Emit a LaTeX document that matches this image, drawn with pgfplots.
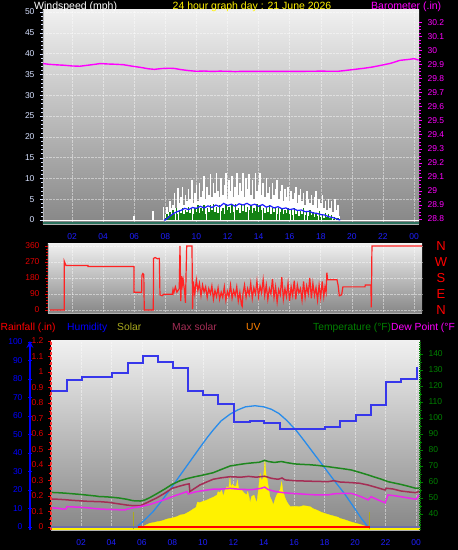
\documentclass[border=0pt]{standalone}
\usepackage{pgfplots}
\pgfplotsset{compat=1.18}
\usepackage{fontspec}
\setmainfont{Liberation Sans}
\definecolor{wblue}{RGB}{30,30,255}
\definecolor{tickw}{RGB}{215,225,255}
\definecolor{mag}{RGB}{255,0,255}
\definecolor{dirred}{RGB}{255,35,35}
\definecolor{lblred}{RGB}{225,0,0}
\definecolor{humblue}{RGB}{55,55,235}
\definecolor{maxsol}{RGB}{40,140,235}
\definecolor{tgreen}{RGB}{30,135,30}
\definecolor{lgreen}{RGB}{0,128,0}
\definecolor{maroonl}{RGB}{165,45,85}
\definecolor{dewmag}{RGB}{235,40,235}
\definecolor{olivel}{RGB}{170,170,30}
\definecolor{uvorange}{RGB}{255,130,0}
\definecolor{basegreen}{RGB}{45,115,95}
\definecolor{slate}{RGB}{110,110,170}
\definecolor{gtop}{RGB}{240,240,240}
\definecolor{gbot}{RGB}{135,135,135}
\definecolor{windgreen}{RGB}{20,130,20}
\pgfplotsset{
  common/.style={scale only axis, anchor=south west,
    /pgf/number format/assume math mode=true,
    tick label style={font=\fontsize{8.5}{9.5}\selectfont},
    tick align=outside, major tick length=3pt, minor tick length=2pt},
  bggrid/.style={axis background/.style={top color=gtop, bottom color=gbot},
    grid=major, grid style={white, densely dotted, opacity=0.45}},
}
\begin{document}
\begin{tikzpicture}
\fill[black] (0pt,0pt) rectangle (458pt,550pt);
% ---------------- top panel: wind speed ----------------
\begin{axis}[common, bggrid,
  at={(43pt,326pt)}, width=376pt, height=214pt,
  xmin=0.13, xmax=24.32, ymin=-0.96, ymax=50.5,
  axis y line*=left, axis x line*=bottom,
  axis line style={draw=gray!60, line width=0.8pt},
  xtick={2,4,...,24}, xticklabels={02,04,06,08,10,12,14,16,18,20,22,00},
  xticklabel style={wblue, yshift=-3pt}, x tick style={draw=none},
  ytick={0,5,...,50}, yticklabel style={tickw, xshift=-2pt},
  y tick style={tickw}, minor y tick num=4]
\addplot[basegreen, line width=1.8pt] coordinates {(0.13,-0.7) (24.32,-0.7)};
\addplot[white, line width=1pt] coordinates {(0.13,0) (24.32,0)};
\addplot[ycomb, white, line width=1.6pt] coordinates {
(5.99,1.0) (7.21,2.1) (7.87,3.2)
(8.0,1.5) (8.1,3.2) (8.2,2.0) (8.3,4.5) (8.4,2.8) (8.5,3.5) (8.6,6.5) (8.7,3.0) (8.8,7.8) (8.9,4.0)
(9.0,5.5) (9.1,8.0) (9.2,3.5) (9.3,6.0) (9.4,4.5) (9.5,7.5) (9.6,5.0) (9.7,9.5) (9.8,4.0) (9.9,6.5)
(10.0,8.5) (10.1,4.5) (10.2,9.0) (10.3,5.5) (10.4,7.0) (10.5,10.5) (10.6,5.0) (10.7,8.0) (10.8,6.0) (10.9,11.0)
(11.0,5.5) (11.1,9.0) (11.2,6.5) (11.3,11.3) (11.4,7.0) (11.5,5.5) (11.6,10.0) (11.7,6.0) (11.8,8.5) (11.9,11.3)
(12.0,5.0) (12.1,9.5) (12.2,7.0) (12.3,10.5) (12.4,5.5) (12.5,8.0) (12.6,11.3) (12.7,6.0) (12.8,9.0) (12.9,7.0)
(13.0,11.3) (13.1,5.5) (13.2,10.0) (13.3,7.5) (13.4,11.0) (13.5,6.0) (13.6,9.5) (13.7,5.0) (13.8,11.3) (13.9,7.0)
(14.0,8.5) (14.1,11.3) (14.2,6.0) (14.3,9.0) (14.4,5.5) (14.5,10.0) (14.6,6.5) (14.7,8.0) (14.8,5.0) (14.9,9.0)
(15.0,6.0) (15.1,7.5) (15.2,9.5) (15.3,5.0) (15.4,7.0) (15.5,8.5) (15.6,4.5) (15.7,7.5) (15.8,5.5) (15.9,8.0)
(16.0,4.5) (16.1,7.0) (16.2,5.0) (16.3,6.5) (16.4,8.0) (16.5,4.0) (16.6,6.0) (16.7,7.5) (16.8,4.5) (16.9,6.5)
(17.0,3.5) (17.1,7.0) (17.2,5.0) (17.3,4.0) (17.4,6.0) (17.5,3.5) (17.6,5.5) (17.7,7.0) (17.8,3.0) (17.9,5.0)
(18.0,4.0) (18.1,6.0) (18.2,3.0) (18.3,4.5) (18.4,2.5) (18.5,5.0) (18.6,3.0) (18.7,4.5) (18.8,2.0) (18.9,5.0)
(19.0,2.5) (19.1,3.5) (19.2,1.0)};
\addplot[ycomb, windgreen, line width=1.4pt] coordinates {
(8.0,0.5) (8.1,1.5) (8.2,1.0) (8.3,2.0) (8.4,1.2) (8.5,2.5) (8.6,1.5) (8.7,2.8) (8.8,1.5) (8.9,2.5)
(9.0,1.8) (9.1,3.0) (9.2,1.5) (9.3,2.5) (9.4,2.0) (9.5,3.2) (9.6,1.8) (9.7,2.8) (9.8,1.5) (9.9,3.0)
(10.0,2.0) (10.1,3.5) (10.2,1.8) (10.3,3.0) (10.4,2.2) (10.5,3.5) (10.6,1.5) (10.7,3.0) (10.8,2.0) (10.9,3.5)
(11.0,2.5) (11.1,3.8) (11.2,2.0) (11.3,3.2) (11.4,1.8) (11.5,3.5) (11.6,2.2) (11.7,3.0) (11.8,1.5) (11.9,3.8)
(12.0,2.5) (12.1,3.2) (12.2,1.8) (12.3,3.5) (12.4,2.0) (12.5,3.8) (12.6,2.5) (12.7,3.0) (12.8,1.8) (12.9,3.5)
(13.0,2.2) (13.1,3.8) (13.2,2.0) (13.3,3.2) (13.4,2.5) (13.5,3.5) (13.6,1.8) (13.7,3.0) (13.8,2.2) (13.9,3.8)
(14.0,2.0) (14.1,3.5) (14.2,2.5) (14.3,3.0) (14.4,1.8) (14.5,3.2) (14.6,2.0) (14.7,3.5) (14.8,1.5) (14.9,3.0)
(15.0,2.0) (15.1,3.2) (15.2,1.5) (15.3,2.8) (15.4,2.0) (15.5,3.0) (15.6,1.5) (15.7,2.5) (15.8,1.8) (15.9,3.0)
(16.0,1.5) (16.1,2.5) (16.2,1.2) (16.3,2.8) (16.4,1.5) (16.5,2.5) (16.6,1.0) (16.7,2.2) (16.8,1.5) (16.9,2.8)
(17.0,1.2) (17.1,2.0) (17.2,1.0) (17.3,2.5) (17.4,1.2) (17.5,2.0) (17.6,0.8) (17.7,1.8) (17.8,1.0) (17.9,2.2)
(18.0,0.8) (18.1,1.5) (18.2,0.5) (18.3,1.8) (18.4,0.8) (18.5,1.5) (18.6,0.5) (18.7,1.2) (18.8,0.3) (18.9,0.8)
(19.0,0.3) (19.1,0.5)};
\addplot[wblue, line width=1.2pt] coordinates {
(7.9,0) (8.0,0) (8.25,0.8) (8.5,1.5) (8.75,2.0) (9.0,2.3) (9.25,2.8) (9.5,2.5) (9.75,3.0) (10.0,2.8)
(10.25,3.3) (10.5,2.9) (10.75,3.4) (11.0,3.0) (11.25,3.6) (11.5,3.2) (11.75,4.0) (12.0,3.5) (12.25,3.8)
(12.5,3.3) (12.75,3.9) (13.0,3.6) (13.25,4.0) (13.5,3.5) (13.75,3.8) (14.0,3.3) (14.25,3.7) (14.5,3.1)
(14.75,3.4) (15.0,2.9) (15.25,3.2) (15.5,2.7) (15.75,2.9) (16.0,2.5) (16.25,2.7) (16.5,2.3) (16.75,2.4)
(17.0,2.0) (17.25,2.1) (17.5,1.7) (17.75,1.6) (18.0,1.3) (18.25,1.2) (18.5,0.8) (18.75,0.6) (19.0,0.3) (19.25,0)};
\end{axis}
\begin{axis}[common,
  at={(43pt,326pt)}, width=376pt, height=214pt,
  xmin=0.13, xmax=24.32, ymin=28.764, ymax=30.286,
  axis y line*=right, axis x line=none,
  y axis line style={draw=none},
  ytick={28.8,28.9,29,29.1,29.2,29.3,29.4,29.5,29.6,29.7,29.8,29.9,30,30.1,30.2},
  yticklabel style={mag, xshift=2pt}, y tick style={mag}, minor y tick num=3]
\addplot[mag, line width=1.4pt] coordinates {
(0.13,29.905) (0.5,29.9) (1.0,29.896) (1.5,29.893) (2.0,29.888) (2.5,29.886) (3.0,29.893) (3.5,29.9)
(3.8,29.905) (4.3,29.902) (4.8,29.9) (5.3,29.897) (5.9,29.886) (6.4,29.878) (6.9,29.868) (7.3,29.864)
(7.8,29.87) (8.3,29.872) (8.6,29.87) (9.0,29.862) (9.5,29.855) (10.0,29.85) (10.5,29.852) (11.0,29.849)
(11.5,29.851) (12.0,29.85) (12.5,29.848) (13.0,29.85) (14.0,29.849) (15.0,29.85) (16.0,29.849)
(17.0,29.85) (18.0,29.851) (19.1,29.85) (19.6,29.856) (20.2,29.864) (20.8,29.872) (21.3,29.88)
(21.9,29.893) (22.5,29.907) (23.1,29.928) (23.7,29.935) (24.0,29.94) (24.3,29.93)};
\end{axis}
% ---------------- middle panel: wind direction ----------------
\begin{axis}[common, bggrid,
  at={(48pt,237pt)}, width=374pt, height=69pt,
  xmin=0.456, xmax=24.52, ymin=-17, ymax=371,
  axis y line*=left, axis x line*=bottom,
  axis line style={draw=gray!60, line width=0.8pt},
  xtick={2,4,...,24}, xticklabels={}, x tick style={draw=none},
  ytick={0,90,180,270,360}, yticklabel style={lblred, xshift=-2pt},
  y tick style={lblred}, minor y tick num=4]
\addplot[dirred, line width=1.2pt] coordinates {
(0.585,0) (1.50,0) (1.50,275) (1.61,250) (3.03,250) (3.03,245) (5.99,245) (5.99,100) (6.48,100)
(6.50,195) (6.56,205) (6.62,200) (6.65,0) (7.23,0) (7.25,290) (7.35,295) (7.5,288) (7.62,290)
(7.66,85) (7.8,80) (7.9,88) (8.45,88) (8.5,115) (8.55,95) (8.65,130) (8.75,100) (8.9,120) (8.95,360)
(9.0,50) (9.05,190) (9.1,140) (9.15,170) (9.25,100) (9.3,40) (9.38,360) (9.72,360) (9.76,5)
(9.8,160) (9.9,90) (10.0,170) (10.1,110) (10.2,150) (10.3,80) (10.4,140) (10.5,100) (10.6,130) (10.7,70)
(10.8,120) (10.9,90) (11.0,135) (11.1,60) (11.2,110) (11.3,75) (11.4,125) (11.5,60) (11.6,100) (11.7,70)
(11.8,130) (11.9,55) (12.0,105) (12.1,75) (12.2,140) (12.3,65) (12.4,110) (12.5,80) (12.6,130) (12.7,50)
(12.8,100) (12.9,30) (12.95,20) (13.0,90) (13.1,140) (13.2,70) (13.3,120) (13.4,85) (13.5,150) (13.6,65)
(13.7,125) (13.8,90) (13.9,160) (14.0,75) (14.1,135) (14.2,95) (14.3,170) (14.4,80) (14.5,140) (14.6,60)
(14.7,120) (14.8,90) (14.9,175) (15.0,70) (15.1,130) (15.2,45) (15.3,115) (15.4,85) (15.5,185) (15.6,60)
(15.7,120) (15.8,75) (15.9,150) (16.0,50) (16.1,130) (16.2,80) (16.3,165) (16.4,60) (16.5,140) (16.6,95)
(16.7,120) (16.8,55) (16.9,160) (17.0,70) (17.1,135) (17.2,90) (17.3,180) (17.4,65) (17.5,150) (17.6,80)
(17.7,125) (17.8,55) (17.9,140) (18.0,70) (18.1,160) (18.2,75) (18.28,130) (18.35,100) (18.40,210)
(18.45,170) (19.05,170) (19.12,140) (19.2,80) (19.35,85) (19.43,130) (20.85,130) (20.87,140)
(21.23,140) (21.26,15) (21.30,360) (24.52,360)};
\end{axis}
\begin{axis}[common,
  at={(48pt,237pt)}, width=374pt, height=69pt,
  xmin=0.456, xmax=24.52, ymin=-17, ymax=371,
  axis y line*=right, axis x line=none, y axis line style={draw=none},
  ytick={0,90,180,270,360}, yticklabels={N,E,S,W,N}, y tick style={draw=none},
  yticklabel style={font=\fontsize{13}{14}\selectfont, red, anchor=center, xshift=16pt}]
\addplot[draw=none] coordinates {(1,0)};
\end{axis}
% ---------------- bottom panel ----------------
\begin{axis}[common, bggrid,
  at={(51pt,20pt)}, width=369pt, height=189pt,
  xmin=0.03, xmax=24.26, ymin=-1.62, ymax=100.54,
  axis x line*=bottom, axis y line=none,
  axis line style={draw=gray!60, line width=0.8pt},
  xtick={2,4,...,24}, xticklabels={02,04,06,08,10,12,14,16,18,20,22,00},
  xticklabel style={wblue, yshift=-3pt}, x tick style={draw=none},
  ytick={0,10,...,100}]
\addplot[draw=none] coordinates {(1,0)};
\end{axis}
% solar
\begin{axis}[common, hide axis,
  at={(51pt,20pt)}, width=369pt, height=189pt,
  xmin=0.03, xmax=24.26, ymin=-24.6, ymax=1524.6]
\addplot[yellow, line width=1.6pt] coordinates {(0.03,-18) (24.26,-18)};
\addplot[fill=yellow, draw=yellow, line width=0.3pt] coordinates {
(5.9,0) (6.07,5) (6.5,30) (7.0,43) (7.3,50) (7.64,65) (8.0,75) (8.3,85) (8.5,98) (8.8,105) (9.1,125)
(9.37,147) (9.55,160) (9.65,205) (9.8,200) (10.0,210) (10.27,221) (10.5,235) (10.7,245) (10.93,262)
(11.0,290) (11.1,280) (11.24,300) (11.35,250) (11.45,300) (11.57,330) (11.7,320) (11.78,402) (11.85,330)
(11.95,350) (12.0,344) (12.1,330) (12.2,340) (12.27,385) (12.35,320) (12.45,310) (12.55,303) (12.7,280)
(12.88,262) (12.95,290) (13.05,240) (13.1,197) (13.2,250) (13.36,262) (13.45,230) (13.54,197) (13.65,300)
(13.76,442) (13.85,380) (13.97,402) (14.03,470) (14.08,549) (14.15,430) (14.24,385) (14.3,330) (14.41,246)
(14.52,220) (14.63,180) (14.75,230) (14.85,262) (14.95,280) (15.07,303) (15.18,371) (15.25,300) (15.4,238)
(15.55,200) (15.73,167) (16.0,170) (16.38,167) (16.6,175) (16.8,172) (17.04,167) (17.25,150) (17.48,139)
(17.8,120) (18.1,108) (18.35,98) (18.6,90) (18.88,80) (19.0,71) (19.3,60) (19.67,44) (19.97,33) (20.3,22)
(20.6,10) (20.85,0)} \closedcycle;
\addplot[olivel, line width=1.3pt] coordinates {(5.47,-20) (5.47,125)};
\addplot[olivel, line width=1.3pt] coordinates {(20.96,-20) (20.96,125)};
\addplot[maxsol, line width=1.3pt] coordinates {
(5.66,0) (6.2,60) (6.73,125) (7.3,215) (7.98,330) (8.6,440) (9.2,545) (9.8,650) (10.3,735) (10.68,795)
(11.2,870) (11.79,925) (12.3,960) (12.8,985) (13.43,994) (14.0,985) (14.5,965) (15.0,930) (15.5,875)
(16.14,790) (16.7,700) (17.3,600) (18.0,485) (18.6,385) (19.32,270) (19.9,165) (20.41,70) (20.85,0)};
\end{axis}
% temperature / dew point (right axis)
\begin{axis}[common,
  at={(51pt,20pt)}, width=369pt, height=189pt,
  xmin=0.03, xmax=24.26, ymin=30, ymax=148.1,
  axis y line*=right, axis x line=none,
  y axis line style={lgreen, densely dotted, line width=1.2pt},
  ytick={40,50,...,140}, yticklabel style={lgreen, xshift=2pt},
  y tick style={lgreen}, minor y tick num=1]
\addplot[maroonl, line width=1.5pt] coordinates {
(0.03,49.4) (0.5,49.2) (1.0,48.9) (1.5,48.5) (2.0,48.2) (2.5,47.9) (3.25,47.7) (3.8,47.3) (4.5,46.3)
(5.0,45.6) (5.42,45.2) (5.9,45.2) (6.53,48.0) (7.0,50.2) (7.5,53.0) (7.98,56.0) (8.5,57.5) (8.9,58.5)
(9.1,58.8) (9.15,54.0) (9.3,55.0) (9.8,58.1) (10.2,59.8) (10.68,61.7) (11.2,62.6) (11.79,63.3) (12.5,63.0)
(13.0,63.5) (13.5,63.0) (14.06,63.6) (14.5,62.3) (14.94,61.7) (15.2,62.5) (15.4,61.3) (16.03,60.8)
(17.0,60.5) (18.2,60.2) (18.6,60.8) (19.0,60.0) (19.75,59.6) (20.3,59.2) (20.85,58.1) (21.4,56.6)
(21.97,55.0) (22.05,56.1) (22.5,55.6) (23.0,54.4) (23.5,53.8) (24.0,53.3) (24.2,54.2)};
\addplot[dewmag, line width=1.5pt] coordinates {
(0.03,43.9) (0.5,43.6) (0.82,43.1) (1.0,43.1) (1.08,44.6) (1.5,44.4) (2.0,44.2) (2.5,43.8) (3.0,43.3)
(3.25,43.1) (4.0,42.8) (4.9,42.5) (5.0,43.0) (5.42,43.9) (5.9,44.6) (6.53,46.0) (7.0,47.5) (7.5,49.0)
(7.98,50.8) (8.5,52.5) (8.96,54.0) (9.05,52.5) (9.16,52.9) (9.5,53.8) (10.0,54.6) (10.68,55.5)
(11.2,55.6) (11.79,56.0) (12.5,55.4) (13.2,55.2) (13.8,56.0) (14.06,56.8) (14.3,55.2) (14.8,54.0)
(15.3,53.3) (16.0,52.8) (16.8,52.3) (17.48,51.9) (18.2,51.9) (18.6,52.6) (19.2,52.9) (19.75,52.9)
(20.4,50.8) (20.85,48.8) (21.05,50.8) (21.5,48.8) (21.97,47.0) (22.16,51.9) (22.6,51.4) (23.0,50.8)
(23.5,50.0) (24.0,49.2) (24.2,52.0)};
\addplot[tgreen, line width=1.5pt] coordinates {
(0.03,53.5) (0.5,53.3) (1.0,53.0) (1.5,52.6) (2.0,52.2) (2.5,51.7) (3.0,51.2) (3.25,50.8) (3.5,50.8)
(4.0,50.5) (4.5,50.0) (5.0,49.2) (5.42,48.3) (5.9,48.1) (6.2,48.8) (6.53,50.3) (7.0,52.8) (7.5,55.6)
(7.98,58.5) (8.5,60.8) (9.0,62.2) (9.49,63.3) (10.0,64.3) (10.68,65.8) (11.2,67.8) (11.79,70.0) (12.3,70.8)
(12.8,71.5) (13.3,72.0) (13.7,72.3) (14.06,73.5) (14.3,72.8) (14.7,72.2) (15.0,72.6) (15.16,72.8)
(15.5,72.1) (16.03,71.3) (16.5,71.0) (17.0,70.8) (17.5,70.4) (18.2,69.6) (18.8,68.8) (19.2,68.3)
(19.75,67.5) (20.3,66.0) (20.85,64.4) (21.3,63.0) (21.7,61.8) (22.16,60.2) (22.6,59.3) (23.0,58.5)
(23.5,57.3) (24.0,56.0) (24.2,56.2)};
\end{axis}
% humidity
\begin{axis}[common, hide axis,
  at={(51pt,20pt)}, width=369pt, height=189pt,
  xmin=0.03, xmax=24.26, ymin=-1.62, ymax=100.54]
\addplot[const plot, humblue, line width=1.8pt] coordinates {
(0.03,73.5) (1.06,79.5) (2.05,80.9) (4.02,83.4) (5.11,88.8) (6.05,92.6) (7.04,89.4) (8.02,86.1)
(9.05,73.5) (10.03,71.4) (11.02,66.5) (12.05,56.6) (13.08,57.5) (14.02,56.0) (15.05,53.0) (18.0,53.9)
(18.99,57.3) (20.08,60.5) (21.06,65.9) (22.05,78.5) (23.03,79.8) (24.05,86.6)};
\end{axis}
% rainfall (left axis)
\begin{axis}[common,
  at={(51pt,20pt)}, width=369pt, height=189pt,
  xmin=0.03, xmax=24.26, ymin=-0.0194, ymax=1.2,
  axis y line*=left, axis x line=none,
  y axis line style={red!80!white, densely dashed, line width=1.2pt},
  ytick={0,0.1,0.2,0.3,0.4,0.5,0.6,0.7,0.8,0.9,1,1.1,1.2},
  yticklabel style={lblred, xshift=-1pt}, y tick style={lblred}, minor y tick num=1]
\addplot[slate, line width=1.8pt] coordinates {(0.03,0) (5.75,0)};
\addplot[slate, line width=1.8pt] coordinates {(20.96,0) (24.26,0)};
\addplot[red, line width=1.8pt] coordinates {(5.75,0) (20.96,0)};
\end{axis}
% humidity scale
\begin{axis}[common,
  at={(30pt,20pt)}, width=1pt, height=189pt,
  xmin=0, xmax=1, ymin=-1.62, ymax=100.54,
  axis y line=left, axis x line=none,
  y axis line style={blue, line width=2pt},
  ytick={0,10,...,100}, yticklabel style={blue, xshift=-2pt},
  y tick style={blue}, major tick length=4pt]
\addplot[draw=none] coordinates {(0,0)};
\end{axis}
% ---------------- titles ----------------
\begin{scope}[every node/.style={inner sep=0pt, anchor=base west, font=\fontsize{10.5}{12}\selectfont}]
\node[white] at (34pt,540.5pt) {Windspeed (mph)};
\node[yellow] at (172.5pt,540.5pt) {24 hour graph day : 21 June 2026};
\node[mag] at (371pt,540.5pt) {Barometer (.in)};
\end{scope}
\begin{scope}[every node/.style={inner sep=0pt, anchor=base west, font=\fontsize{10.3}{12}\selectfont}]
\node[red] at (0.5pt,219pt) {Rainfall (.in)};
\node[blue] at (67pt,219pt) {Humidity};
\node[olivel] at (117pt,219pt) {Solar};
\node[maroonl] at (172pt,219pt) {Max solar};
\node[uvorange] at (246pt,219pt) {UV};
\node[lgreen] at (313pt,219pt) {Temperature (°F)};
\node[mag] at (391pt,219pt) {Dew Point (°F};
\end{scope}
\pgfresetboundingbox
\useasboundingbox (0pt,0pt) rectangle (458pt,550pt);
\end{tikzpicture}
\end{document}
